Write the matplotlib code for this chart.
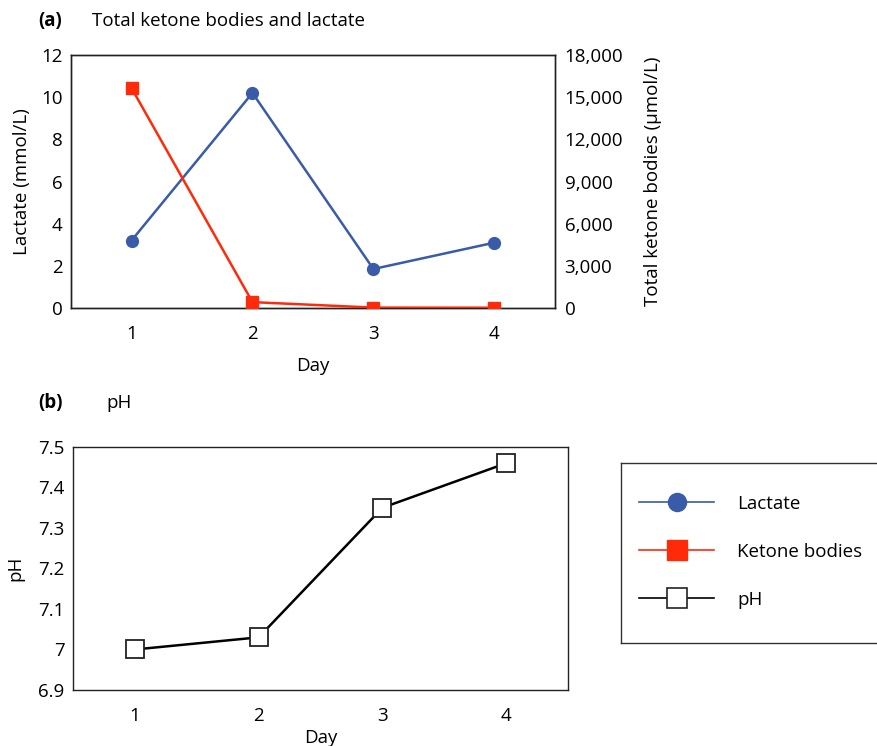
import matplotlib
matplotlib.use("Agg")
import matplotlib.pyplot as plt
from matplotlib.lines import Line2D
from matplotlib.ticker import FuncFormatter

plt.rcParams['font.family'] = ['Open Sans', 'DejaVu Sans']

days = [1, 2, 3, 4]
lactate = [3.2, 10.2, 1.85, 3.1]
ketones = [15650, 420, 30, 20]
ph = [7.00, 7.03, 7.35, 7.46]

blue = "#3A5BA8"
red = "#FF2A0A"
fs = 13.5

fig = plt.figure(figsize=(8.78, 7.46), dpi=100)

# Panel (a)
ax1 = fig.add_axes([0.0809, 0.5871, 0.551, 0.3392])
ax1.plot(days, lactate, color=blue, lw=1.8, marker='o', ms=8.5, zorder=3)
ax1.set_xlim(0.5, 4.5)
ax1.set_ylim(0, 12)
ax1.set_yticks(range(0, 13, 2))
ax1.set_xticks(days)
ax1.tick_params(length=0, labelsize=fs, pad=6)
ax1.tick_params(axis='x', pad=12)
ax1.set_ylabel("Lactate (mmol/L)", fontsize=fs, labelpad=7)
ax1.set_xlabel("Day", fontsize=fs, labelpad=10)

ax2 = ax1.twinx()
ax2.plot(days, ketones, color=red, lw=1.8, marker='s', ms=8.5, zorder=3)
ax2.set_ylim(0, 18000)
ax2.set_yticks(range(0, 18001, 3000))
ax2.yaxis.set_major_formatter(FuncFormatter(lambda v, p: f"{int(v):,}"))
ax2.tick_params(length=0, labelsize=fs, pad=7)
ax2.set_ylabel("Total ketone bodies (\u03bcmol/L)", fontsize=fs, labelpad=15)
for ax in (ax1, ax2):
    for s in ax.spines.values():
        s.set_color("#222222")
        s.set_linewidth(1.0)

fig.text(0.044, 0.972, "(a)", fontsize=fs, fontweight='bold', va='center')
fig.text(0.105, 0.972, "Total ketone bodies and lactate", fontsize=fs, va='center')

# Panel (b)
ax3 = fig.add_axes([0.0831, 0.0751, 0.564, 0.3257])
ax3.plot(days, ph, color='black', lw=1.8, marker='s', ms=13, mfc='white', mec='#222222', mew=1.3)
ax3.set_xlim(0.5, 4.5)
ax3.set_ylim(6.9, 7.5)
ax3.set_yticks([6.9, 7.0, 7.1, 7.2, 7.3, 7.4, 7.5])
ax3.set_yticklabels(["6.9", "7", "7.1", "7.2", "7.3", "7.4", "7.5"])
ax3.set_xticks(days)
ax3.tick_params(length=0, labelsize=fs, pad=6)
ax3.tick_params(axis='x', pad=12)
ax3.set_ylabel("pH", fontsize=fs, labelpad=10)
ax3.set_xlabel("Day", fontsize=fs, labelpad=3)
for s in ax3.spines.values():
    s.set_color("#222222")
    s.set_linewidth(1.0)

fig.text(0.044, 0.46, "(b)", fontsize=fs, fontweight='bold', va='center')
fig.text(0.121, 0.46, "pH", fontsize=fs, va='center')

# Legend box
axl = fig.add_axes([0.707, 0.138, 0.31, 0.241])
axl.set_xticks([]); axl.set_yticks([])
for s in axl.spines.values():
    s.set_color("#333333")
    s.set_linewidth(1.0)
handles = [
    Line2D([], [], color=blue, lw=1.2, marker='o', ms=13),
    Line2D([], [], color=red, lw=1.2, marker='s', ms=15),
    Line2D([], [], color='black', lw=1.2, marker='s', ms=15, mfc='white', mec='#222222', mew=1.2),
]
axl.legend(handles, ["Lactate", "Ketone bodies", "pH"], loc='upper left',
           bbox_to_anchor=(0.0, 0.93), frameon=False, fontsize=fs,
           handlelength=4.0, handletextpad=1.2, labelspacing=1.6, borderaxespad=0.6)

fig.savefig("out.png", dpi=100)
